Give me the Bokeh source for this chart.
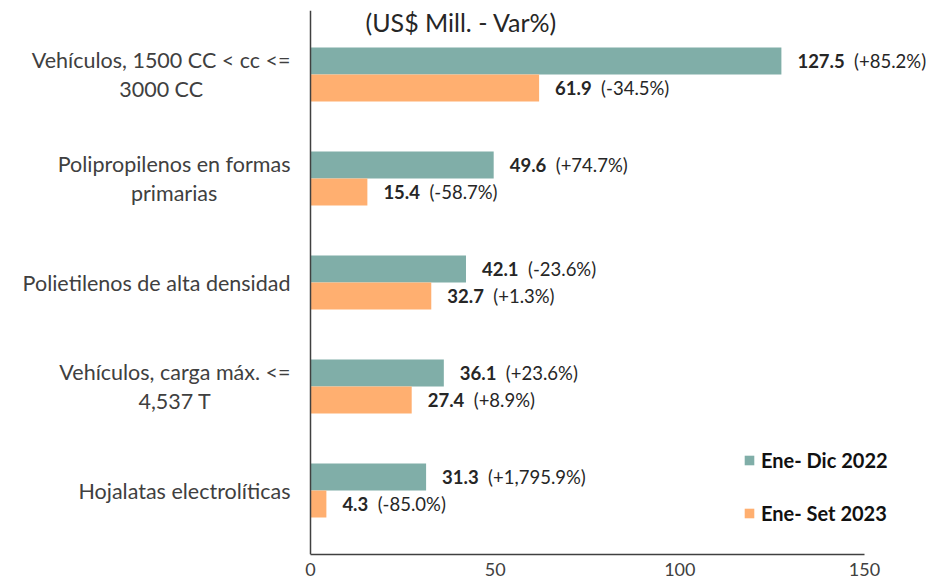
from bokeh.plotting import figure
from bokeh.models import ColumnDataSource, FactorRange, Range1d, Span, Label, Legend, LegendItem, FixedTicker
from bokeh.transform import dodge
from bokeh.core.properties import value
from bokeh.embed import file_html
from bokeh.resources import INLINE

categories = ["Vehículos, 1500 CC < cc <=\n3000 CC",
              "Polipropilenos en formas\nprimarias",
              "Polietilenos de alta densidad",
              "Vehículos, carga máx. <=\n4,537 T",
              "Hojalatas electrolíticas"]
values_2022 = [127.5, 49.6, 42.1, 36.1, 31.3]
values_2023 = [61.9, 15.4, 32.7, 27.4, 4.3]
var_2022 = ["(+85.2%)", "(+74.7%)", "(-23.6%)", "(+23.6%)", "(+1,795.9%)"]
var_2023 = ["(-34.5%)", "(-58.7%)", "(+1.3%)", "(+8.9%)", "(-85.0%)"]
series_names = ["Ene- Dic 2022", "Ene- Set 2023"]
x_ticks = [0, 50, 100, 150]
title_text = "(US$ Mill. - Var%)"

FONT = "Lato"
DATA_FS = "18.5px"
CAT_FS = "21.5px"
TICK_FS = "18px"
LEG_FS = "20px"
TEAL = "#80AEA8"
ORANGE = "#FFAF70"

FRAME_W = 930
ZERO_PX = 310
PPU = 554 / 150.0


def est_w(s):
    w = 0.0
    for ch in s:
        w += 4.9 if ch == "." else 10.7
    return w


def fmt(v):
    return f"{v:.1f}"


src = ColumnDataSource(dict(
    cat=categories,
    v22=values_2022,
    v23=values_2023,
    l22=[fmt(v) for v in values_2022],
    l23=[fmt(v) for v in values_2023],
    p22=var_2022,
    p23=var_2023,
    o22=[16 + est_w(fmt(v)) + 9 for v in values_2022],
    o23=[16 + est_w(fmt(v)) + 9 for v in values_2023],
))

y_range = FactorRange(factors=categories[::-1], range_padding=0.115, range_padding_units="absolute")
x_range = Range1d(-ZERO_PX / PPU, (FRAME_W - ZERO_PX) / PPU)

p = figure(frame_width=FRAME_W, frame_height=544, x_range=x_range, y_range=y_range,
           output_backend="svg", toolbar_location=None, y_axis_location=None,
           min_border_left=0, min_border_right=0, min_border_top=10, min_border_bottom=0)
p.outline_line_color = None
p.xgrid.visible = False
p.ygrid.visible = False
p.background_fill_color = "white"
p.border_fill_color = "white"

r1 = p.hbar(y=dodge("cat", 0.13, range=p.y_range), right="v22", left=0, height=0.26,
            source=src, fill_color=TEAL, line_color=None)
r2 = p.hbar(y=dodge("cat", -0.13, range=p.y_range), right="v23", left=0, height=0.26,
            source=src, fill_color=ORANGE, line_color=None)

common = dict(text_font=value(FONT), text_font_size=DATA_FS, text_baseline="middle", text_color="#262626")
p.text(x="v22", y=dodge("cat", 0.13, range=p.y_range), text="l22", x_offset=16,
       text_font_style="bold", source=src, **common)
p.text(x="v22", y=dodge("cat", 0.13, range=p.y_range), text="p22", x_offset="o22",
       source=src, **common)
p.text(x="v23", y=dodge("cat", -0.13, range=p.y_range), text="l23", x_offset=16,
       text_font_style="bold", source=src, **common)
p.text(x="v23", y=dodge("cat", -0.13, range=p.y_range), text="p23", x_offset="o23",
       source=src, **common)

# category labels
p.text(x=0, y="cat", text="cat", x_offset=-20, anchor="center_right", text_align="center",
       text_baseline="middle", text_font=value(FONT), text_font_size=CAT_FS, text_color="#404040",
       text_line_height=1.08, source=src)

# vertical axis line
p.add_layout(Span(location=0, dimension="height", line_color="#404040", line_width=1.5))

# title
p.add_layout(Label(x=0, y=len(categories), x_offset=55, text=title_text, text_font=FONT,
                   text_font_size="25px", text_baseline="middle", text_color="#262626"))

ax = p.xaxis[0]
ax.ticker = FixedTicker(ticks=x_ticks)
ax.bounds = (0, 150)
ax.axis_line_color = "#404040"
ax.axis_line_width = 1.5
ax.major_tick_line_color = None
ax.minor_tick_line_color = None
ax.major_label_text_font = FONT
ax.major_label_text_font_size = TICK_FS
ax.major_label_text_color = "#404040"
ax.major_label_standoff = 2

legend = Legend(items=[LegendItem(label=series_names[0], renderers=[r1]),
                       LegendItem(label=series_names[1], renderers=[r2])],
                location=(743, 29), orientation="vertical",
                glyph_width=12, glyph_height=12, label_standoff=6, spacing=29,
                label_height=24, padding=0, margin=0,
                label_text_font=FONT, label_text_font_size=LEG_FS, label_text_font_style="bold",
                label_text_color="#111111", border_line_color=None, background_fill_alpha=0)
p.add_layout(legend)

open("out.html", "w").write(file_html(p, INLINE))
